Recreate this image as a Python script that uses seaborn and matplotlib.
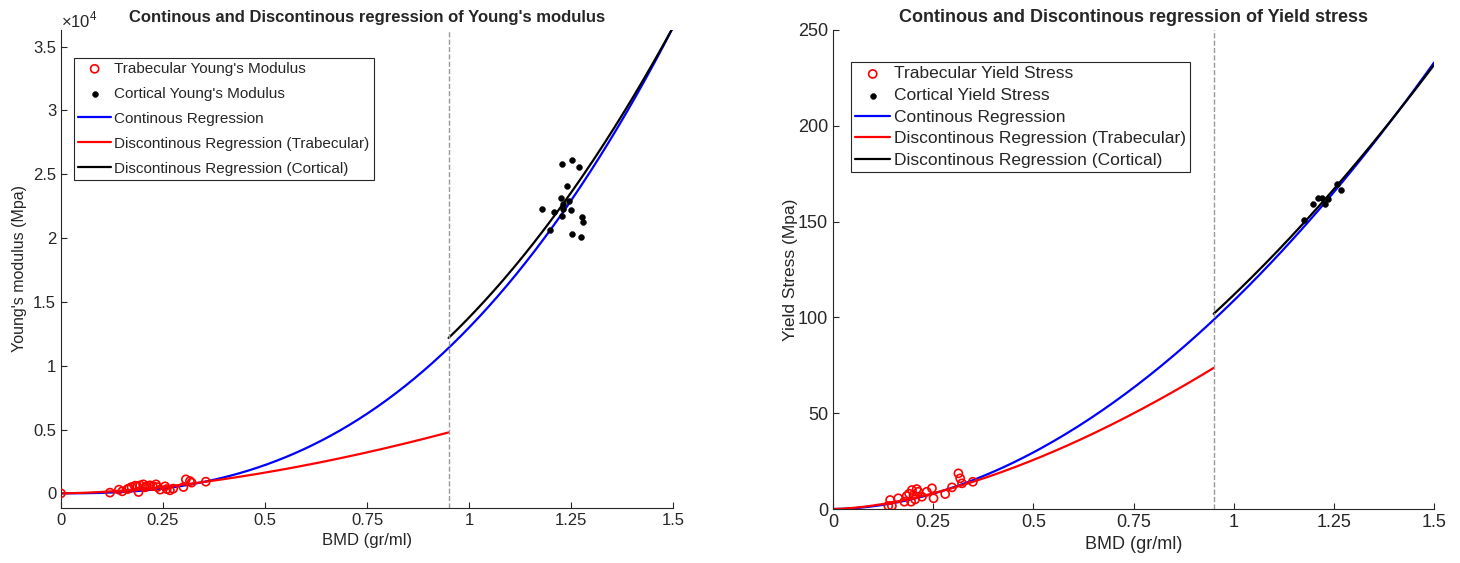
import numpy as np
import pandas as pd
import matplotlib
matplotlib.use("Agg")
import matplotlib.pyplot as plt
import seaborn as sns
from matplotlib.ticker import FuncFormatter

# --- data ---
# Young's modulus panel
trab_E_bmd = [0.0, 0.120, 0.142, 0.150, 0.163, 0.167, 0.173, 0.182, 0.187, 0.190, 0.194,
              0.202, 0.206, 0.210, 0.218, 0.225, 0.233, 0.236, 0.243, 0.255, 0.259,
              0.267, 0.275, 0.300, 0.306, 0.316, 0.320, 0.355]
trab_E_val = [0, 55, 289, 156, 330, 390, 492, 600, 547, 102, 625,
              703, 470, 547, 625, 560, 703, 492, 289, 547, 336,
              234, 367, 492, 1094, 961, 836, 914]
cort_E_bmd = [1.229, 1.253, 1.269, 1.239, 1.226, 1.244, 1.231, 1.180, 1.208, 1.230,
              1.250, 1.229, 1.276, 1.279, 1.199, 1.253, 1.275]
cort_E_val = [25805, 26148, 25570, 24086, 23102, 22891, 22633, 22289, 22031, 22242,
              22211, 21695, 21641, 21250, 20602, 20336, 20102]

# Yield stress panel
trab_S_bmd = [0.1425, 0.147, 0.138, 0.163, 0.178, 0.184, 0.195, 0.197, 0.201, 0.209,
              0.213, 0.222, 0.234, 0.247, 0.251, 0.280, 0.297, 0.313, 0.3175, 0.322,
              0.349, 0.190, 0.205]
trab_S_val = [4.7, 1.6, 1.6, 5.6, 3.8, 6.8, 3.8, 9.9, 7.3, 10.4,
              9.0, 6.4, 9.0, 10.8, 5.6, 7.8, 11.3, 18.6, 16.0, 13.4,
              14.2, 8.0, 5.0]
cort_S_bmd = [1.175, 1.1975, 1.21, 1.22, 1.2275, 1.235, 1.2575, 1.2675]
cort_S_val = [150.8, 159.2, 162.3, 162.3, 159.2, 161.8, 169.6, 166.5]

# power-law fits  y = a * bmd^b  (coefficients)
E_cont = (12980, 2.55)
E_trab = (5200, 1.68)
E_cort = (13770, 2.405)
S_cont = (108.7, 1.88)
S_trab = (80.1, 1.645)
S_cort = (111.7, 1.80)

cutoff = 0.95
INK = "#262626"


def curve(coef, lo, hi):
    x = np.linspace(lo, hi, 200)
    return pd.DataFrame({"x": x, "y": coef[0] * x ** coef[1]})


sns.set_style("white")
plt.rcParams["font.family"] = ["Liberation Sans", "DejaVu Sans"]
plt.rcParams["mathtext.fontset"] = "custom"
plt.rcParams["mathtext.rm"] = "Liberation Sans"

fig = plt.figure(figsize=(14.6, 5.63), dpi=100)
ax1 = fig.add_axes([61 / 1460, 1 - 508 / 563, 612 / 1460, 478 / 563])
ax2 = fig.add_axes([833 / 1460, 1 - 509 / 563, 601 / 1460, 479 / 563])


def draw(ax, tb, tv, cb, cv, cont, trab, cort, what, fs, lfs, anchor, spacing, hl):
    sns.scatterplot(x=tb, y=tv, ax=ax, marker="o", facecolor="none", edgecolor="red",
                    linewidth=1.2, s=34, label=f"Trabecular {what}", zorder=3)
    sns.scatterplot(x=cb, y=cv, ax=ax, marker="o", color="black", edgecolor="black",
                    s=18, label=f"Cortical {what}", zorder=3)
    d = curve(cont, 0, 1.5)
    sns.lineplot(data=d, x="x", y="y", ax=ax, color="blue", lw=1.6, label="Continous Regression")
    d = curve(trab, 0, cutoff)
    sns.lineplot(data=d, x="x", y="y", ax=ax, color="red", lw=1.6,
                 label="Discontinous Regression (Trabecular)")
    d = curve(cort, cutoff, 1.5)
    sns.lineplot(data=d, x="x", y="y", ax=ax, color="black", lw=1.6,
                 label="Discontinous Regression (Cortical)")
    ax.axvline(cutoff, color="#999999", ls="--", lw=1)
    ax.set_xlim(0, 1.5)
    ax.set_xticks([0, 0.25, 0.5, 0.75, 1, 1.25, 1.5])
    ax.xaxis.set_major_formatter(FuncFormatter(lambda v, p: f"{v:g}"))
    ax.set_xlabel("BMD (gr/ml)", color=INK, fontsize=fs)
    for s in ["top", "right"]:
        ax.spines[s].set_visible(False)
    for s in ["left", "bottom"]:
        ax.spines[s].set_color(INK)
        ax.spines[s].set_linewidth(0.8)
    ax.tick_params(direction="in", length=4, width=0.8, colors=INK, labelsize=fs,
                   left=True, bottom=True)
    leg = ax.legend(loc="upper left", bbox_to_anchor=anchor, borderaxespad=0,
                    fancybox=False, framealpha=1, edgecolor=INK,
                    fontsize=lfs, handlelength=hl, handletextpad=0.2,
                    borderpad=0.25, labelspacing=spacing)
    leg.get_frame().set_linewidth(0.8)


draw(ax1, trab_E_bmd, trab_E_val, cort_E_bmd, cort_E_val, E_cont, E_trab, E_cort,
     "Young's Modulus", 12, 11, (13 / 612, 1 - 28 / 478), 0.72, 2.2)
ax1.set_ylim(-1150, 36300)
ax1.set_yticks(np.arange(0, 35001, 5000))
ax1.yaxis.set_major_formatter(FuncFormatter(lambda v, p: f"{v / 1e4:g}"))
ax1.set_ylabel("Young's modulus (Mpa)", color=INK, fontsize=11.5)
ax1.text(0, 1.0, r"$\times\mathregular{10}^{\mathregular{4}}$", transform=ax1.transAxes,
         fontsize=12, color=INK, va="bottom", ha="left")
ax1.set_title("Continous and Discontinous regression of Young's modulus",
              fontweight="bold", fontsize=12, pad=6)

draw(ax2, trab_S_bmd, trab_S_val, cort_S_bmd, cort_S_val, S_cont, S_trab, S_cort,
     "Yield Stress", 13, 12.5, (18 / 601, 1 - 32 / 479), 0.37, 2.0)
ax2.set_ylim(0, 250)
ax2.set_yticks(np.arange(0, 251, 50))
ax2.set_ylabel("Yield Stress (Mpa)", color=INK, fontsize=12.5, labelpad=0)
ax2.set_title("Continous and Discontinous regression of Yield stress",
              fontweight="bold", fontsize=13, pad=6)

fig.savefig("out.png", dpi=100)
